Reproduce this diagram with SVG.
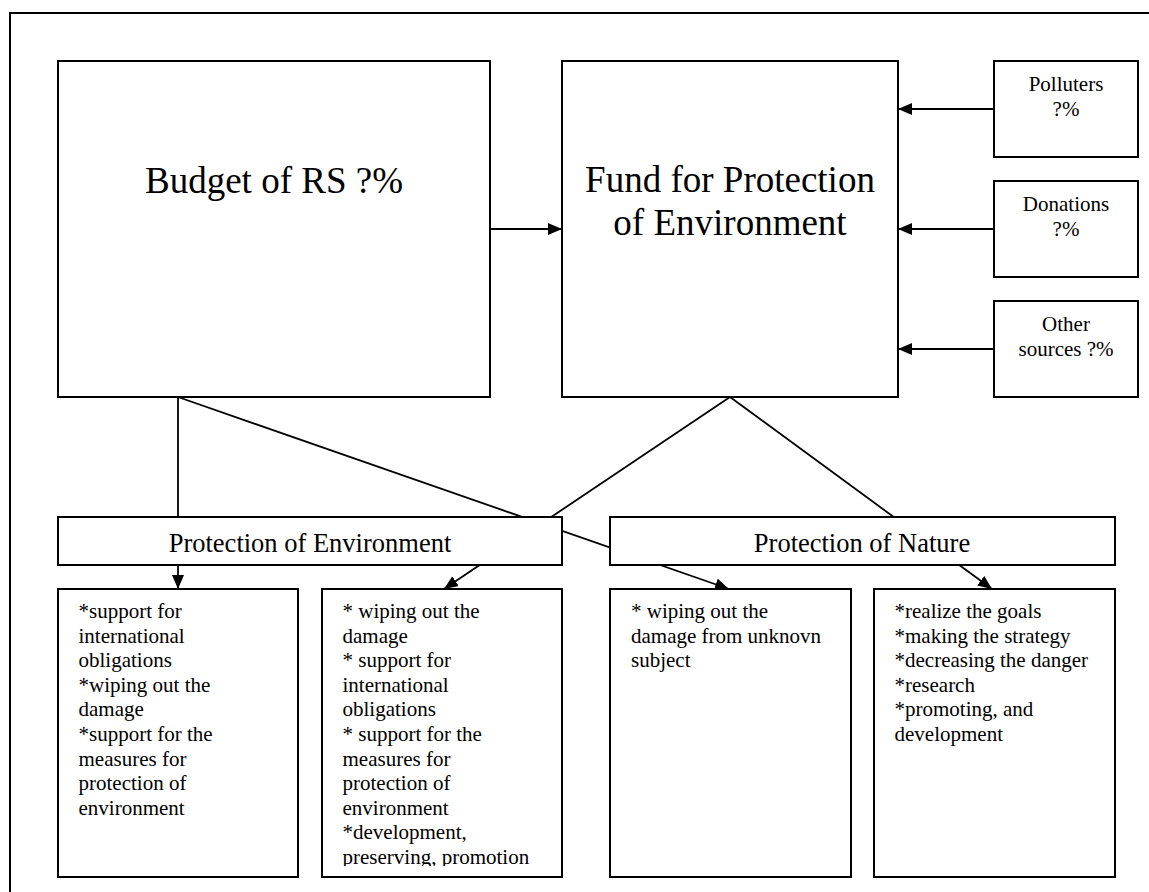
<svg xmlns="http://www.w3.org/2000/svg" width="1149" height="892" viewBox="0 0 1149 892" font-family="Liberation Serif, Times New Roman, serif">
<style>
.box{fill:#fff;stroke:#000;stroke-width:2}
.ln{fill:none;stroke:#000;stroke-width:1.8}
.frame{fill:none;stroke:#000;stroke-width:2}
.t{font-family:'Liberation Serif','Times New Roman',serif;fill:#000}
.big{font-size:37px;text-anchor:middle}
.mid{font-size:26.5px;text-anchor:middle}
.src{font-size:21px;text-anchor:middle}
.lst{font-size:21px}
</style>
<defs>
<marker id="ah" markerUnits="userSpaceOnUse" markerWidth="14" markerHeight="12" refX="14" refY="6" orient="auto">
<path d="M0,0 L14,6 L0,12 z" fill="#000"/>
</marker>
<clipPath id="clip2"><rect x="322" y="589" width="240" height="277"/></clipPath>
</defs>
<path class="frame" d="M10,892 L10,13 L1149,13"/>
<g id="connectors">
<line class="ln" x1="490" y1="229" x2="562" y2="229" marker-end="url(#ah)"/>
<line class="ln" x1="994" y1="109" x2="898" y2="109" marker-end="url(#ah)"/>
<line class="ln" x1="994" y1="229" x2="898" y2="229" marker-end="url(#ah)"/>
<line class="ln" x1="994" y1="349" x2="898" y2="349" marker-end="url(#ah)"/>
<line class="ln" x1="178" y1="397" x2="178" y2="589" marker-end="url(#ah)"/>
<line class="ln" x1="178" y1="397" x2="729" y2="589" marker-end="url(#ah)"/>
<line class="ln" x1="730" y1="397" x2="444" y2="589" marker-end="url(#ah)"/>
<line class="ln" x1="730" y1="397" x2="992" y2="589" marker-end="url(#ah)"/>
</g>
<g id="budget">
<rect class="box" x="58" y="61" width="432" height="336"/>
<text class="t big" x="274" y="193">Budget of RS ?%</text>
</g>
<g id="fund">
<rect class="box" x="562" y="61" width="336" height="336"/>
<text class="t big" x="730" y="192">Fund for Protection</text>
<text class="t big" x="730" y="235">of Environment</text>
</g>
<g id="polluters">
<rect class="box" x="994" y="61" width="144" height="96"/>
<text class="t src" x="1066" y="91">Polluters</text>
<text class="t src" x="1066" y="116">?%</text>
</g>
<g id="donations">
<rect class="box" x="994" y="181" width="144" height="96"/>
<text class="t src" x="1066" y="211">Donations</text>
<text class="t src" x="1066" y="236">?%</text>
</g>
<g id="other">
<rect class="box" x="994" y="301" width="144" height="96"/>
<text class="t src" x="1066" y="331">Other</text>
<text class="t src" x="1066" y="356">sources ?%</text>
</g>
<g id="prot-env">
<rect class="box" x="58" y="517" width="504" height="48"/>
<text class="t mid" x="310" y="552">Protection of Environment</text>
</g>
<g id="prot-nature">
<rect class="box" x="610" y="517" width="505" height="48"/>
<text class="t mid" x="862" y="552">Protection of Nature</text>
</g>
<g id="list1">
<rect class="box" x="58" y="589" width="240" height="288"/>
<text class="t lst" x="78.5" y="618">*support for</text>
<text class="t lst" x="78.5" y="643">international</text>
<text class="t lst" x="78.5" y="667">obligations</text>
<text class="t lst" x="78.5" y="692">*wiping out the</text>
<text class="t lst" x="78.5" y="716">damage</text>
<text class="t lst" x="78.5" y="741">*support for the</text>
<text class="t lst" x="78.5" y="766">measures for</text>
<text class="t lst" x="78.5" y="790">protection of</text>
<text class="t lst" x="78.5" y="815">environment</text>
</g>
<g id="list2">
<rect class="box" x="322" y="589" width="240" height="288"/>
<g clip-path="url(#clip2)">
<text class="t lst" x="342.5" y="618">* wiping out the</text>
<text class="t lst" x="342.5" y="643">damage</text>
<text class="t lst" x="342.5" y="667">* support for</text>
<text class="t lst" x="342.5" y="692">international</text>
<text class="t lst" x="342.5" y="716">obligations</text>
<text class="t lst" x="342.5" y="741">* support for the</text>
<text class="t lst" x="342.5" y="766">measures for</text>
<text class="t lst" x="342.5" y="790">protection of</text>
<text class="t lst" x="342.5" y="815">environment</text>
<text class="t lst" x="342.5" y="839">*development,</text>
<text class="t lst" x="342.5" y="864">preserving, promotion</text>
</g>
</g>
<g id="list3">
<rect class="box" x="610" y="589" width="241" height="288"/>
<text class="t lst" x="631" y="618">* wiping out the</text>
<text class="t lst" x="631" y="643">damage from unknovn</text>
<text class="t lst" x="631" y="667">subject</text>
</g>
<g id="list4">
<rect class="box" x="874" y="589" width="241" height="288"/>
<text class="t lst" x="894.5" y="618">*realize the goals</text>
<text class="t lst" x="894.5" y="643">*making the strategy</text>
<text class="t lst" x="894.5" y="667">*decreasing the danger</text>
<text class="t lst" x="894.5" y="692">*research</text>
<text class="t lst" x="894.5" y="716">*promoting, and</text>
<text class="t lst" x="894.5" y="741">development</text>
</g>
</svg>
